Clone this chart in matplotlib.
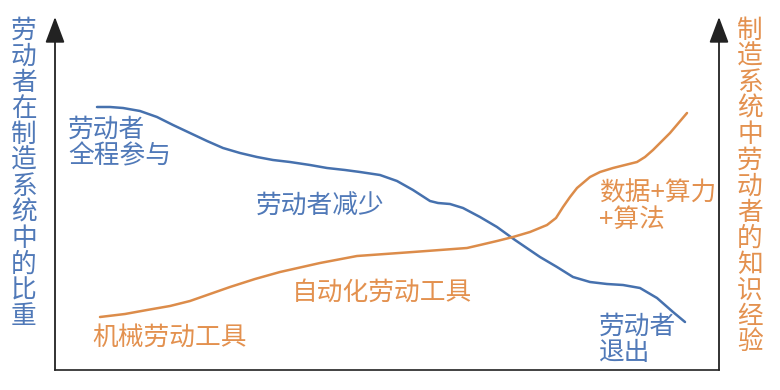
import matplotlib
matplotlib.use("Agg")
import matplotlib.pyplot as plt

plt.rcParams['font.family'] = ['Noto Sans CJK SC', 'DejaVu Sans']

# progress along the horizontal axis (arbitrary units) and level (arbitrary units)
worker_x = [42, 55, 68, 85, 102, 118, 135, 152, 168, 185, 202, 218, 235, 255, 272,
            290, 305, 325, 342, 358, 375, 383, 395, 408, 425, 442, 460, 485, 502,
            518, 535, 552, 568, 585, 602, 618, 630]
worker_y = [263, 263, 262, 259, 253, 245, 237, 229, 222, 217, 213, 210, 208, 205, 202,
            200, 198, 195, 189, 180, 169, 167, 166, 162, 153, 143, 130, 113, 103,
            93, 88, 86, 85, 82, 72, 58, 48]

know_x = [45, 70, 92, 115, 135, 155, 175, 200, 225, 265, 302, 330, 358, 385, 412,
          425, 442, 458, 475, 492, 501, 508, 515, 522, 535, 545, 558, 570, 582,
          590, 598, 607, 615, 632]
know_y = [53, 56, 60, 64, 69, 76, 83, 91, 98, 107, 114, 116, 118, 120, 122,
          125, 129, 133, 138, 145, 152, 163, 173, 182, 193, 198, 202, 205, 208,
          213, 220, 229, 237, 257]

left_label = "劳动者在制造系统中的比重"
right_label = "制造系统中劳动者的知识经验"
worker_notes = ["劳动者\n全程参与", "劳动者减少", "劳动者\n退出"]
know_notes = ["机械劳动工具", "自动化劳动工具", "数据+算力\n+算法"]

BLUE_LINE = "#4671ae"
BLUE_TEXT = "#5079b8"
ORANGE_LINE = "#dc8c4a"
ORANGE_TEXT = "#e3914f"

W, H = 780, 390
fig = plt.figure(figsize=(W / 100, H / 100), dpi=100)
ax = fig.add_axes([55 / W, (H - 370) / H, (719 - 55) / W, (370 - 17) / H])
ax.set_xlim(0, 664)
ax.set_ylim(0, 353)
for s in ["left", "right", "top"]:
    ax.spines[s].set_visible(False)
ax.spines["bottom"].set_color("#333333")
ax.spines["bottom"].set_linewidth(1.3)
ax.set_xticks([])
ax.set_yticks([])

for xa in (0, 1):
    ax.annotate("", xy=(xa, 1.0), xytext=(xa, 0.0), xycoords="axes fraction",
                textcoords="axes fraction",
                arrowprops=dict(arrowstyle="-|>,head_length=0.8,head_width=0.3",
                                mutation_scale=20, color="#222222", lw=1.3,
                                shrinkA=0, shrinkB=0),
                annotation_clip=False)

ax.plot(worker_x, worker_y, color=BLUE_LINE, lw=1.8, solid_capstyle="round",
        solid_joinstyle="round")
ax.plot(know_x, know_y, color=ORANGE_LINE, lw=1.8, solid_capstyle="round",
        solid_joinstyle="round")

fs = 18.5
kw = dict(fontsize=fs, fontweight="light", linespacing=1.0)


def put(px, py, s, color, ha="left", va="center", **extra):
    fig.text(px / W, 1 - py / H, s, color=color, ha=ha, va=va, **kw, **extra)


put(24, 174, "\n".join(left_label), BLUE_TEXT, ha="center")
put(750, 187, "\n".join(right_label), ORANGE_TEXT, ha="center")

put(68, 143, worker_notes[0], BLUE_TEXT)
put(256, 207, worker_notes[1], BLUE_TEXT)
put(599, 340, worker_notes[2], BLUE_TEXT)

put(92, 338, know_notes[0], ORANGE_TEXT)
put(292, 293, know_notes[1], ORANGE_TEXT)
put(599, 207, know_notes[2], ORANGE_TEXT)

fig.savefig("out.png", dpi=100)
